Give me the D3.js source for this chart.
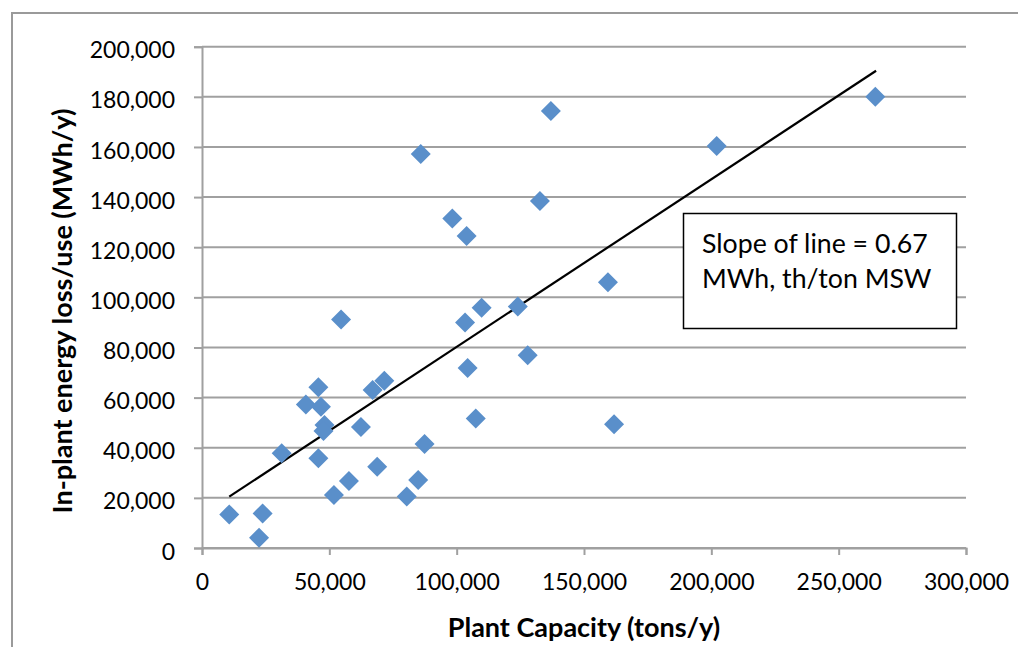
<!DOCTYPE html>
<html>
<head>
<meta charset="utf-8">
<script src="https://cdn.jsdelivr.net/npm/d3@7/dist/d3.min.js"></script>
<style>
  html, body { margin: 0; padding: 0; background: #fff; }
  svg { display: block; }
  text { font-family: Lato, "Open Sans", sans-serif; fill: #000; }
</style>
</head>
<body>
<svg id="chart" width="1018" height="647"></svg>
<script>
// Plant capacity (tons/y)
const capacity = [10700, 23800, 22400, 31300, 40800, 45700, 46700, 45700, 48100, 47700,
  51800, 54600, 57700, 62400, 68800, 67000, 71600, 80400, 84900, 85900,
  87400, 98300, 103900, 103300, 104300, 107500, 109800, 124000, 127900, 132700,
  137000, 159400, 161800, 202100, 264400];
// In-plant energy loss/use (MWh/y)
const energy = [13400, 13800, 4100, 37800, 57300, 64100, 56400, 35800, 49100, 46700,
  21100, 91200, 26700, 48300, 32400, 63000, 66700, 20500, 27100, 157200,
  41500, 131500, 124500, 90000, 71800, 51700, 95900, 96300, 76900, 138400,
  174300, 106000, 49400, 160400, 180000];
// Trend line end points
const trendX = [10700, 264700];
const trendY = [20500, 190400];
const xTicks = [0, 50000, 100000, 150000, 200000, 250000, 300000];
const yTicks = [0, 20000, 40000, 60000, 80000, 100000, 120000, 140000, 160000, 180000, 200000];
const xTitle = "Plant Capacity (tons/y)";
const yTitle = "In-plant energy loss/use (MWh/y)";
const noteLines = ["Slope of line = 0.67", "MWh, th/ton MSW"];

const svg = d3.select("#chart");
const grey = "#a0a0a0";

// outer chart border
svg.append("rect").attr("x", 12).attr("y", 13).attr("width", 1030).attr("height", 660)
  .attr("fill", "none").attr("stroke", "#9a9a9a").attr("stroke-width", 2);

const x = d3.scaleLinear().domain([0, 300000]).range([202, 966]);
const y = d3.scaleLinear().domain([0, 200000]).range([548, 46.7]);
const fmt = d3.format(",");

// gridlines
svg.append("g").selectAll("line").data(yTicks).join("line")
  .attr("x1", x(0)).attr("x2", x(300000))
  .attr("y1", d => y(d)).attr("y2", d => y(d))
  .attr("stroke", grey).attr("stroke-width", 2);

// y axis
const yAxis = svg.append("g").attr("transform", `translate(${x(0)},0)`)
  .call(d3.axisLeft(y).tickValues(yTicks).tickFormat(fmt).tickSize(8).tickPadding(19));
yAxis.select(".domain").attr("stroke", grey).attr("stroke-width", 2);
yAxis.selectAll(".tick line").attr("stroke", grey).attr("stroke-width", 2);
yAxis.selectAll(".tick text").attr("font-size", 23).attr("font-family", "Lato")
  .attr("fill", "#000").attr("dy", "0.48em");

// x axis
const xAxis = svg.append("g").attr("transform", `translate(0,${y(0)})`)
  .call(d3.axisBottom(x).tickValues(xTicks).tickFormat(fmt).tickSize(7).tickPadding(28));
xAxis.select(".domain").attr("stroke", grey).attr("stroke-width", 2);
xAxis.selectAll(".tick line").attr("stroke", grey).attr("stroke-width", 2);
xAxis.selectAll(".tick text").attr("font-size", 23).attr("font-family", "Lato")
  .attr("fill", "#000").attr("dy", "0.3em");

// trend line
svg.append("line")
  .attr("x1", x(trendX[0])).attr("y1", y(trendY[0]))
  .attr("x2", x(trendX[1])).attr("y2", y(trendY[1]))
  .attr("stroke", "#000").attr("stroke-width", 2.2);

// points
const sym = d3.symbol(d3.symbolSquare, 200);
svg.append("g").selectAll("path").data(capacity.map((c, i) => [c, energy[i]])).join("path")
  .attr("d", sym)
  .attr("transform", d => `translate(${x(d[0])},${y(d[1])}) rotate(45)`)
  .attr("fill", "#5a8fca");

// annotation box
svg.append("rect").attr("x", 683.5).attr("y", 213.5).attr("width", 273).attr("height", 115)
  .attr("fill", "#fff").attr("stroke", "#000").attr("stroke-width", 1.5);
svg.append("g").selectAll("text").data(noteLines).join("text")
  .attr("x", 702).attr("y", (d, i) => 253 + i * 34.5)
  .attr("font-size", 26.7).text(d => d);

// axis titles
svg.append("text").attr("x", 584).attr("y", 637).attr("text-anchor", "middle")
  .attr("font-size", 27).attr("font-weight", "bold").text(xTitle);
svg.append("text").attr("transform", "translate(72,311) rotate(-90)")
  .attr("text-anchor", "middle").attr("font-size", 27).attr("font-weight", "bold").text(yTitle);
</script>
</body>
</html>
